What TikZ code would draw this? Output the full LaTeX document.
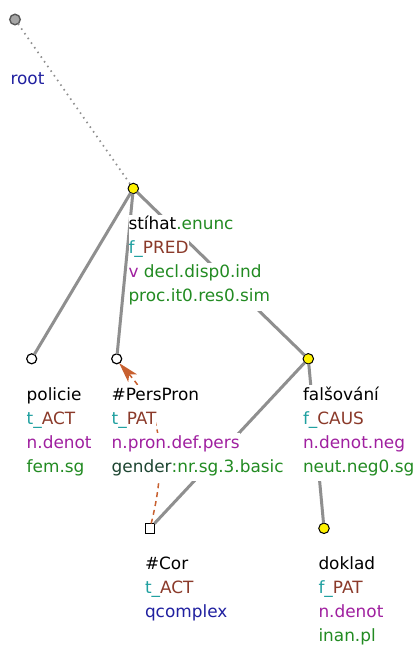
\documentclass[tikz,border=0pt]{standalone}
\usepackage{fontspec}
\setmainfont{DejaVu Sans}
\usetikzlibrary{arrows.meta}
\definecolor{lgreen}{HTML}{228B22}
\definecolor{lteal}{HTML}{1FA0A0}
\definecolor{lbrown}{HTML}{8B3A2A}
\definecolor{lpurple}{HTML}{A020A0}
\definecolor{lblue}{HTML}{2020A0}
\definecolor{ldark}{HTML}{1E4632}
\definecolor{edgegray}{HTML}{8F8F8F}
\definecolor{corefcol}{HTML}{C8602F}
\newcommand{\tT}[1]{\textcolor{lteal}{#1}}
\newcommand{\tB}[1]{\textcolor{lbrown}{#1}}
\newcommand{\tG}[1]{\textcolor{lgreen}{#1}}
\newcommand{\tP}[1]{\textcolor{lpurple}{#1}}
\newcommand{\tU}[1]{\textcolor{lblue}{#1}}
\begin{document}
\begin{tikzpicture}[x=1pt,y=-1pt,
  rootnd/.style={circle,draw=black!65,fill=black!35,line width=1.4pt,minimum size=10.5pt,inner sep=0pt,outer sep=0pt},
  ynode/.style={circle,draw=black,fill=yellow,line width=1pt,minimum size=10.5pt,inner sep=0pt,outer sep=0pt},
  wnode/.style={circle,draw=black,fill=white,line width=1.2pt,minimum size=10pt,inner sep=0pt,outer sep=0pt},
  cornd/.style={rectangle,draw=black,fill=white,line width=1pt,minimum size=9.5pt,inner sep=0pt,outer sep=0pt},
  treeedge/.style={draw=edgegray,line width=3pt},
  rootedge/.style={draw=edgegray,line width=1.7pt,dash pattern=on 1.5pt off 4.2pt},
  coref/.style={draw=corefcol,line width=1.5pt,dash pattern=on 5pt off 4pt,
    -{Stealth[length=20pt,width=11.5pt,inset=5pt]}},
  lblrow/.style={anchor=base west,inner sep=0pt,outer sep=0pt,fill=white,draw=none,
    text height=15pt,text depth=9pt,font=\fontsize{16.9}{20}\selectfont}]
\useasboundingbox (0,0) rectangle (416,648);
\fill[white] (0,0) rectangle (416,648);
% tree nodes
\node[rootnd] (root) at (15,19.5) {};
\node[ynode] (stihat) at (133.3,188.5) {};
\node[wnode] (policie) at (31.7,358.8) {};
\node[wnode] (pers) at (116.7,358.8) {};
\node[ynode] (falsovani) at (308.3,358.8) {};
\node[cornd] (cor) at (150,528.3) {};
\node[ynode] (doklad) at (324,528.3) {};
% edges (they end at the node borders)
\draw[rootedge] (root) -- (stihat);
\draw[treeedge] (stihat) -- (policie);
\draw[treeedge] (stihat) -- (pers);
\draw[treeedge] (stihat) -- (falsovani);
\draw[treeedge] (falsovani) -- (cor);
\draw[treeedge] (falsovani) -- (doklad);
\draw[coref] (cor) .. controls (172,440) and (152,400) .. (pers.-60);
% labels, drawn over the edges
\node[lblrow] (root-l2) at (10.5,84.7) {\tU{root}};
\node[lblrow] (stihat-l1) at (128.5,229.7) {stíhat\tG{.enunc}};
\node[lblrow] (stihat-l2) at (128.5,253.7) {\tT{f\_}\tB{PRED}};
\node[lblrow] (stihat-l3) at (128.5,277.7) {\tP{v} \tG{decl.disp0.ind}};
\node[lblrow] (stihat-l4) at (128.5,301.7) {\tG{proc.it0.res0.sim}};
\node[lblrow] (policie-l1) at (26.7,400) {policie};
\node[lblrow] (policie-l2) at (26.7,424) {\tT{t\_}\tB{ACT}};
\node[lblrow] (policie-l3) at (26.7,448) {\tP{n.denot}};
\node[lblrow] (policie-l4) at (26.7,472) {\tG{fem.sg}};
\node[lblrow] (pers-l1) at (111.7,400) {\#PersPron};
\node[lblrow] (pers-l2) at (111.7,424) {\tT{t\_}\tB{PAT}};
\node[lblrow] (pers-l3) at (111.7,448) {\tP{n.pron.def.pers}};
\node[lblrow] (pers-l4) at (111.7,472) {\textcolor{ldark}{gender}\tG{:nr.sg.3.basic}};
\node[lblrow] (fals-l1) at (303,400) {falšování};
\node[lblrow] (fals-l2) at (303,424) {\tT{f\_}\tB{CAUS}};
\node[lblrow] (fals-l3) at (303,448) {\tP{n.denot.neg}};
\node[lblrow] (fals-l4) at (303,472) {\tG{neut.neg0.sg}};
\node[lblrow] (cor-l1) at (145,569.5) {\#Cor};
\node[lblrow] (cor-l2) at (145,593.5) {\tT{t\_}\tB{ACT}};
\node[lblrow] (cor-l3) at (145,617.5) {\tU{qcomplex}};
\node[lblrow] (doklad-l1) at (318.5,569.5) {doklad};
\node[lblrow] (doklad-l2) at (318.5,593.5) {\tT{f\_}\tB{PAT}};
\node[lblrow] (doklad-l3) at (318.5,617.5) {\tP{n.denot}};
\node[lblrow] (doklad-l4) at (318.5,641.5) {\tG{inan.pl}};
\end{tikzpicture}
\end{document}
